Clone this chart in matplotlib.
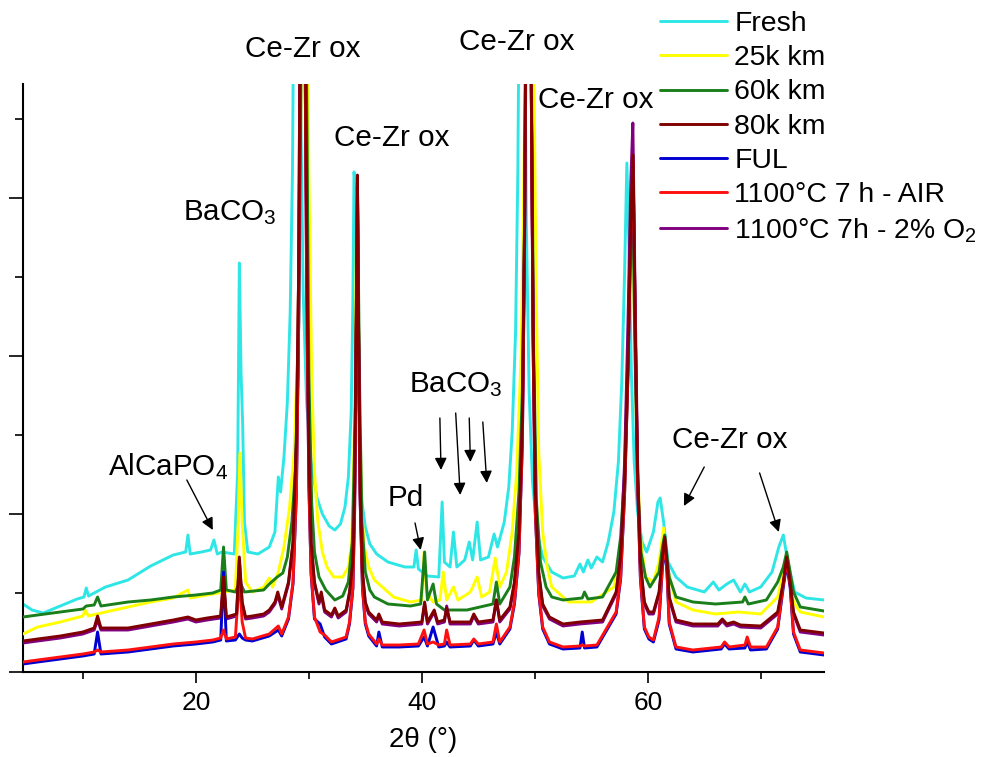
import matplotlib
matplotlib.use('Agg')
import matplotlib.pyplot as plt
from matplotlib.ticker import MultipleLocator

plt.rcParams['font.family'] = ['Liberation Sans', 'DejaVu Sans']
plt.rcParams['mathtext.fontset'] = 'custom'
plt.rcParams['mathtext.rm'] = 'Liberation Sans'
plt.rcParams['mathtext.it'] = 'Liberation Sans:italic'

# ---------------- data (2theta in degrees, intensity in a.u.) ----------------
fresh_x = [4.7, 5.5, 6.5, 8, 9.5, 10.1, 10.3, 10.5, 12, 14, 16, 18, 19.1, 19.3, 19.5, 20.5, 21.3, 21.6, 21.9,
           22.3, 23.4, 23.7, 23.85, 24.0, 24.15, 24.3, 24.6, 25.5, 26.5, 27.0, 27.3, 27.5, 27.8, 28.1, 28.35,
           28.55, 28.75, 28.9, 29.1, 29.3, 29.5, 29.8, 30.2, 30.7, 31.2, 31.8, 32.3, 32.8, 33.2, 33.5, 33.75,
           33.9, 34.0, 34.1, 34.25, 34.45, 34.7, 35.0, 35.4, 36, 37, 38.5, 39.3, 39.5, 39.7, 40.5, 41.5, 41.8,
           42.0, 42.5, 42.8, 43.1, 43.8, 44.2, 44.5, 44.9, 45.2, 45.9, 46.4, 46.7, 47.3, 47.7, 48.0, 48.3,
           48.5, 48.7, 48.85, 49.05, 49.25, 49.5, 49.8, 50.2, 50.7, 51.5, 52.5, 53.5, 54.0, 54.3, 54.7, 55.0,
           55.5, 56.0, 56.5, 57.0, 57.4, 57.7, 57.95, 58.15, 58.35, 58.55, 58.8, 59.1, 59.5, 59.9, 60.5,
           60.9, 61.1, 61.4, 61.8, 62.5, 63.5, 65.0, 65.8, 66.3, 67.0, 67.6, 68.2, 68.6, 69.0, 70.0, 71.0,
           71.6, 72.0, 72.4, 73.0, 74.0, 75.6]
fresh_y = [68, 62, 59, 66, 73, 75, 84, 76, 85, 92, 106, 117, 120, 137, 118, 120, 122, 132, 118,
           120, 118, 200, 409, 300, 245, 150, 120, 118, 125, 140, 195, 180, 215, 270, 360,
           500, 800, 1000, 800, 550, 380, 270, 210, 175, 158, 146, 142, 148, 165, 195, 260,
           370, 500, 490, 350, 230, 170, 145, 128, 118, 110, 105, 105, 122, 103, 96, 95, 170,
           110, 105, 140, 105, 112, 130, 112, 150, 112, 115, 138, 125, 150, 185, 240, 340,
           500, 800, 1000, 750, 450, 280, 190, 140, 115, 100, 94, 96, 108, 100, 112, 104,
           115, 110, 130, 160, 210, 290, 400, 509, 420, 300, 210, 160, 130, 120, 140,
           170, 174, 150, 110, 95, 85, 80, 90, 82, 88, 92, 80, 88, 80, 85, 100,
           125, 137, 110, 80, 74, 72]

km25_x = [4.7, 6, 8, 10, 10.2, 10.5, 12, 14, 16, 18, 19.3, 19.5, 21, 22.5, 23.5, 23.75, 23.9, 24.1, 24.4,
          25, 26, 26.5, 26.8, 27.3, 27.8, 28.3, 28.7, 29.0, 29.25, 29.45, 29.6, 29.8, 30.0, 30.25, 30.5,
          30.8, 31.2, 31.6, 32.2, 33, 33.5, 33.8, 34.05, 34.25, 34.45, 34.65, 34.9, 35.3, 35.8, 36.5, 37.5,
          39, 40.0, 40.2, 40.4, 41, 41.6, 41.9, 42.2, 42.8, 43.2, 44.3, 44.9, 45.3, 46.0, 46.5, 46.9, 47.5,
          48.0, 48.4, 48.8, 49.1, 49.35, 49.6, 49.85, 50.1, 50.35, 50.7, 51.1, 51.5, 53, 55, 57, 57.5,
          57.9, 58.2, 58.45, 58.65, 58.85, 59.1, 59.4, 59.8, 60.5, 61.0, 61.4, 61.8, 62.5, 64, 66, 68, 70,
          71.5, 71.9, 72.2, 72.5, 72.9, 73.5, 75.6]
km25_y = [38, 45, 50, 56, 62, 56, 60, 65, 70, 74, 82, 74, 77, 80, 82, 150, 219, 150, 90,
          80, 85, 94, 85, 100, 125, 165, 220, 320, 500, 800, 1000, 800, 500, 300, 200,
          150, 120, 105, 95, 95, 105, 130, 250, 480, 300, 170, 125, 105, 92, 85, 75,
          70, 72, 120, 80, 70, 72, 100, 72, 85, 72, 80, 95, 75, 80, 114, 85, 100,
          140, 200, 320, 550, 850, 1000, 700, 400, 220, 140, 105, 85, 70, 70, 85, 110,
          160, 280, 430, 470, 330, 200, 130, 95, 90, 110, 144, 100, 70, 62, 58, 60, 58,
          75, 95, 112, 95, 70, 60, 55]

km60_x = [4.7, 6, 8, 10, 10.3, 11.0, 11.3, 11.6, 14, 16, 18, 20, 21.5, 22.2, 22.45, 22.7, 23.5, 23.9,
          24.3, 26, 26.5, 27.2, 27.7, 28.1, 28.5, 28.8, 29.05, 29.25, 29.45, 29.6, 29.8, 30.0, 30.25, 30.5,
          30.9, 31.5, 32.3, 33.0, 33.5, 33.85, 34.1, 34.3, 34.5, 34.7, 35.0, 35.4, 35.8, 37, 39, 39.9,
          40.25, 40.5, 41.0, 41.3, 42, 44, 46.3, 46.6, 46.9, 47.8, 48.2, 48.6, 48.9, 49.15, 49.35, 49.5,
          49.7, 49.9, 50.15, 50.5, 51.0, 51.5, 52.5, 54.2, 54.4, 54.7, 56, 57.2, 57.6, 57.95, 58.25, 58.5,
          58.65, 58.85, 59.1, 59.4, 59.8, 60.2, 61.0, 61.3, 61.5, 61.7, 61.9, 62.5, 64, 66, 68.4, 68.6,
          68.9, 70.5, 71.5, 72.0, 72.3, 72.6, 72.9, 73.5, 75.6]
km60_y = [55, 57, 60, 63, 66, 67, 75, 66, 70, 72, 75, 77, 79, 82, 125, 82, 80, 90,
          80, 82, 88, 95, 99, 115, 150, 200, 300, 500, 900, 1000, 600, 300, 170, 120,
          95, 82, 72, 76, 90, 130, 250, 490, 280, 150, 100, 82, 75, 68, 66, 68,
          120, 72, 88, 68, 62, 62, 68, 90, 68, 85, 115, 180, 280, 500, 900, 1000,
          600, 320, 170, 110, 85, 75, 72, 74, 80, 73, 75, 100, 135, 200, 320, 470,
          500, 330, 190, 120, 95, 85, 100, 125, 137, 115, 95, 75, 70, 68, 70, 75,
          68, 72, 90, 105, 120, 100, 80, 65, 61]

km80_x = [4.7, 6, 8, 10, 11.0, 11.3, 11.6, 14, 16, 18, 19.3, 20, 21, 22.2, 22.45, 22.7, 23.6, 23.85,
          24.1, 24.4, 25, 26, 26.5, 27.0, 27.25, 27.6, 28.2, 28.6, 28.9, 29.1, 29.25, 29.45, 29.65, 29.8,
          30.0, 30.2, 30.5, 30.9, 31.1, 31.4, 32.0, 32.3, 32.6, 33.3, 33.6, 33.9, 34.05, 34.2, 34.3, 34.4,
          34.55, 34.75, 35.0, 35.3, 36.0, 36.2, 36.5, 38, 40.0, 40.25, 40.5, 41.1, 41.4, 42.0, 42.2, 42.5,
          44.3, 44.6, 45.0, 46.3, 46.6, 46.9, 47.8, 48.2, 48.6, 48.9, 49.1, 49.3, 49.45, 49.65, 49.85,
          50.05, 50.35, 50.7, 51.3, 52.5, 54, 56, 57.2, 57.6, 57.95, 58.25, 58.5, 58.7, 58.9, 59.1, 59.35,
          59.7, 60.1, 60.5, 61.0, 61.3, 61.5, 61.7, 61.9, 62.5, 64, 66.2, 66.6, 67.0, 67.6, 68.2, 70, 71.5,
          72.0, 72.3, 72.6, 72.9, 73.5, 75.6]
km80_y = [31, 33, 36, 40, 44, 56, 44, 44, 48, 52, 55, 52, 54, 56, 95, 55, 58, 115,
          70, 55, 56, 58, 62, 70, 80, 65, 90, 130, 230, 400, 700, 1000, 700, 450,
          220, 130, 90, 70, 80, 62, 57, 64, 56, 62, 80, 110, 180, 350, 497, 350,
          180, 100, 70, 60, 52, 58, 50, 48, 50, 70, 50, 62, 50, 52, 64, 50,
          50, 58, 50, 52, 72, 52, 65, 90, 140, 250, 450, 850, 1000, 650, 350,
          180, 100, 68, 55, 48, 50, 52, 80, 115, 190, 310, 450, 517, 340, 200, 110,
          70, 60, 60, 80, 115, 135, 110, 75, 52, 48, 48, 53, 48, 50, 47, 46, 60,
          90, 115, 90, 60, 42, 39]

ful_x = [4.7, 6, 8, 10, 11.0, 11.3, 11.6, 14, 16, 18, 20, 21.5, 22.2, 22.45, 22.7, 23.5, 23.85, 24.1, 24.4,
         25, 26.5, 27.3, 27.6, 28.2, 28.6, 28.9, 29.1, 29.25, 29.45, 29.65, 29.8, 30.0, 30.2, 30.5, 31.0,
         31.4, 32, 33.3, 33.6, 33.9, 34.05, 34.2, 34.3, 34.4, 34.55, 34.75, 35.0, 35.3, 36, 36.2, 36.5, 38,
         39.7, 40.2, 40.5, 41.0, 41.5, 42.0, 42.2, 42.5, 44.3, 44.6, 45.0, 46.3, 46.6, 46.9, 47.8, 48.2,
         48.6, 48.9, 49.1, 49.3, 49.45, 49.65, 49.85, 50.05, 50.35, 50.7, 51.3, 52.5, 54.0, 54.2, 54.4,
         55.5, 57.2, 57.6, 57.95, 58.25, 58.5, 58.7, 58.9, 59.1, 59.35, 59.7, 60.1, 60.5, 61.0, 61.3, 61.5,
         61.7, 61.9, 62.5, 64, 66.5, 66.8, 67.2, 68.6, 68.8, 69.1, 70.5, 71.5, 72.0, 72.3, 72.6, 72.9,
         73.5, 75.6]
ful_y = [8, 10, 13, 16, 18, 40, 18, 20, 23, 26, 28, 30, 32, 100, 31, 32, 38, 34, 32,
         31, 36, 42, 36, 53, 88, 178, 348, 648, 1000, 648, 398, 188, 98, 53, 48,
         35, 28, 33, 48, 83, 158, 328, 485, 338, 168, 83, 48, 36, 26, 40, 25, 25,
         26, 35, 26, 45, 25, 26, 30, 25, 26, 32, 26, 28, 40, 28, 43, 68,
         118, 228, 428, 848, 1000, 648, 328, 158, 78, 43, 28, 23, 24, 40, 24,
         25, 58, 93, 178, 298, 438, 505, 338, 188, 93, 43, 33, 30, 52, 105, 125,
         100, 48, 23, 20, 23, 28, 23, 24, 30, 22, 23, 43, 85, 108, 85, 38,
         20, 17]

air_x = [4.7, 6, 8, 10, 11.0, 11.3, 11.6, 14, 16, 18, 20, 21.5, 22.2, 22.45, 22.7, 23.5, 23.85, 24.1, 24.4,
         25, 26.5, 27.3, 27.6, 28.2, 28.6, 28.9, 29.1, 29.25, 29.45, 29.65, 29.8, 30.0, 30.2, 30.5, 31.0,
         31.4, 32, 33.3, 33.6, 33.9, 34.05, 34.2, 34.3, 34.4, 34.55, 34.75, 35.0, 35.3, 36, 36.2, 36.5, 38,
         39.7, 40.2, 40.5, 41.0, 41.5, 42.0, 42.2, 42.5, 44.3, 44.6, 45.0, 46.3, 46.6, 46.9, 47.8, 48.2,
         48.6, 48.9, 49.1, 49.3, 49.45, 49.65, 49.85, 50.05, 50.35, 50.7, 51.3, 52.5, 54.0, 54.2, 54.4,
         55.5, 57.2, 57.6, 57.95, 58.25, 58.5, 58.7, 58.9, 59.1, 59.35, 59.7, 60.1, 60.5, 61.0, 61.3, 61.5,
         61.7, 61.9, 62.5, 64, 66.5, 66.8, 67.2, 68.6, 68.8, 69.1, 70.5, 71.5, 72.0, 72.3, 72.6, 72.9,
         73.5, 75.6]
air_y = [10, 12, 15, 18, 20, 22, 20, 22, 25, 28, 30, 32, 34, 42, 33, 35, 95, 50, 34,
         33, 38, 46, 38, 55, 90, 180, 350, 650, 1000, 650, 400, 190, 100, 55, 40,
         37, 30, 35, 50, 85, 160, 330, 490, 340, 170, 85, 50, 38, 28, 33, 27, 27,
         28, 42, 28, 30, 27, 28, 42, 27, 28, 33, 28, 30, 48, 30, 45, 70,
         120, 230, 430, 850, 1000, 650, 330, 160, 80, 45, 30, 25, 26, 27, 26,
         27, 60, 95, 180, 300, 440, 510, 340, 190, 95, 45, 35, 32, 55, 108, 128,
         102, 50, 25, 22, 25, 30, 25, 27, 35, 25, 25, 45, 88, 110, 88, 40,
         22, 19]

o2_x = [4.7, 6, 8, 10, 11.0, 11.3, 11.6, 14, 16, 18, 19.3, 20, 21, 22.2, 22.45, 22.7, 23.6, 23.85,
        24.1, 24.4, 25, 26, 26.5, 27.0, 27.25, 27.6, 28.2, 28.6, 28.9, 29.1, 29.25, 29.45, 29.65, 29.8,
        30.0, 30.2, 30.5, 30.9, 31.1, 31.4, 32.0, 32.3, 32.6, 33.3, 33.6, 33.9, 34.05, 34.2, 34.3, 34.4,
        34.55, 34.75, 35.0, 35.3, 36.0, 36.2, 36.5, 38, 40.0, 40.25, 40.5, 41.1, 41.4, 42.0, 42.2, 42.5,
        44.3, 44.6, 45.0, 46.3, 46.6, 46.9, 47.8, 48.2, 48.6, 48.9, 49.1, 49.3, 49.45, 49.65, 49.85,
        50.05, 50.35, 50.7, 51.3, 52.5, 54, 56, 57.2, 57.6, 57.95, 58.25, 58.5, 58.68, 58.9, 59.1, 59.35,
        59.7, 60.1, 60.5, 61.0, 61.3, 61.5, 61.7, 61.9, 62.5, 64, 66.2, 66.6, 67.0, 67.6, 68.2, 70, 71.5,
        72.0, 72.3, 72.6, 72.9, 73.5, 75.6]
o2_y = [29, 31, 34, 38, 42, 52, 42, 42, 46, 50, 53, 50, 52, 54, 92, 53, 56, 112,
        68, 53, 54, 56, 60, 68, 77, 63, 88, 128, 228, 398, 698, 1000, 698, 448,
        218, 128, 88, 68, 77, 60, 55, 62, 54, 60, 78, 108, 178, 348, 495, 348,
        178, 98, 68, 58, 50, 56, 48, 46, 48, 68, 48, 60, 48, 50, 66, 48,
        48, 56, 48, 50, 72, 50, 63, 88, 138, 248, 448, 848, 1000, 648, 348,
        178, 98, 66, 53, 46, 48, 50, 78, 118, 210, 350, 490, 549, 360, 210, 108,
        68, 58, 58, 78, 113, 133, 108, 73, 50, 46, 46, 51, 46, 48, 45, 44, 58,
        88, 112, 88, 58, 40, 37]

labels = ['Fresh', '25k km', '60k km', '80k km', 'FUL', '1100°C 7 h - AIR',
          '1100°C 7h - 2% O$_\\mathregular{2}$']
colors = ['#2EE6E6', '#FFFF00', '#1A7F1A', '#800000', '#0000D0', '#FF1010', '#800080']

# ---------------- figure ----------------
W, H = 985, 757
fig = plt.figure(figsize=(W / 100, H / 100), dpi=100)
ax = fig.add_axes([23 / W, (H - 672) / H, (824 - 23) / W, (672 - 84) / H])

series = {
    labels[0]: (fresh_x, fresh_y),
    labels[1]: (km25_x, km25_y),
    labels[2]: (km60_x, km60_y),
    labels[3]: (km80_x, km80_y),
    labels[4]: (ful_x, ful_y),
    labels[5]: (air_x, air_y),
    labels[6]: (o2_x, o2_y),
}
col = dict(zip(labels, colors))
draw_order = [labels[0], labels[1], labels[2], labels[6], labels[4], labels[5], labels[3]]
handles = {}
for i, name in enumerate(draw_order):
    xs, ys = series[name]
    (ln,) = ax.plot(xs, ys, color=col[name], lw=2.1, zorder=2 + i,
                    solid_joinstyle='round', solid_capstyle='round')
    handles[name] = ln

ax.set_xlim(4.7, 75.6)
ax.set_ylim(0, 588)
for s in ['top', 'right']:
    ax.spines[s].set_visible(False)
for s in ['left', 'bottom']:
    ax.spines[s].set_linewidth(1.5)

ax.xaxis.set_major_locator(MultipleLocator(20))
ax.xaxis.set_minor_locator(MultipleLocator(10))
ax.yaxis.set_major_locator(MultipleLocator(158))
ax.yaxis.set_minor_locator(MultipleLocator(79))
ax.tick_params(axis='x', which='major', direction='out', length=8, width=1.2, pad=6,
               labelsize=19)
ax.tick_params(axis='x', which='minor', direction='out', length=5, width=1.2)
ax.tick_params(axis='y', which='major', direction='out', length=10, width=1.2, labelleft=False)
ax.tick_params(axis='y', which='minor', direction='out', length=6, width=1.2)
ax.set_xlabel('2θ (°)', fontsize=20, labelpad=8)

# legend
leg_handles = [handles[n] for n in labels]
fig.legend(leg_handles, labels, loc='upper left', bbox_to_anchor=(660 / W, 1 - 11 / H),
           frameon=False, fontsize=20.4, handlelength=2.35, handletextpad=0.27,
           labelspacing=0.29, borderpad=0, borderaxespad=0)

# annotations
fs = 21.3
txt = dict(fontsize=fs, ha='center', va='center', annotation_clip=False)
ax.annotate('Ce-Zr ox', xy=(29.5, 623), **txt)
ax.annotate('Ce-Zr ox', xy=(48.4, 630), **txt)
ax.annotate('Ce-Zr ox', xy=(55.4, 572), **txt)
ax.annotate('Ce-Zr ox', xy=(37.3, 534), **txt)
ax.annotate('BaCO$_\\mathregular{3}$', xy=(18.9, 459), fontsize=fs, ha='left', va='center')
ax.annotate('AlCaPO$_\\mathregular{4}$', xy=(12.2, 205), fontsize=fs, ha='left', va='center')
ax.annotate('Pd', xy=(38.6, 174), **txt)
ax.annotate('BaCO$_\\mathregular{3}$', xy=(38.9, 287), fontsize=fs, ha='left', va='center')
ax.annotate('Ce-Zr ox', xy=(67.3, 232), **txt)

arrow = dict(arrowstyle='-|>', color='black', lw=1.0, mutation_scale=18,
             shrinkA=0, shrinkB=0)
arrows = [((19.2, 192), (21.5, 142)),
          ((39.4, 149), (39.9, 122)),
          ((41.6, 254), (41.7, 202)),
          ((43.0, 259), (43.4, 177)),
          ((44.2, 254), (44.3, 210)),
          ((45.4, 250), (45.75, 189)),
          ((65.0, 205), (63.2, 166)),
          ((69.9, 199), (71.6, 140))]
for tail, head in arrows:
    ax.annotate('', xy=head, xytext=tail, arrowprops=arrow)

fig.savefig('out.png', dpi=100)
